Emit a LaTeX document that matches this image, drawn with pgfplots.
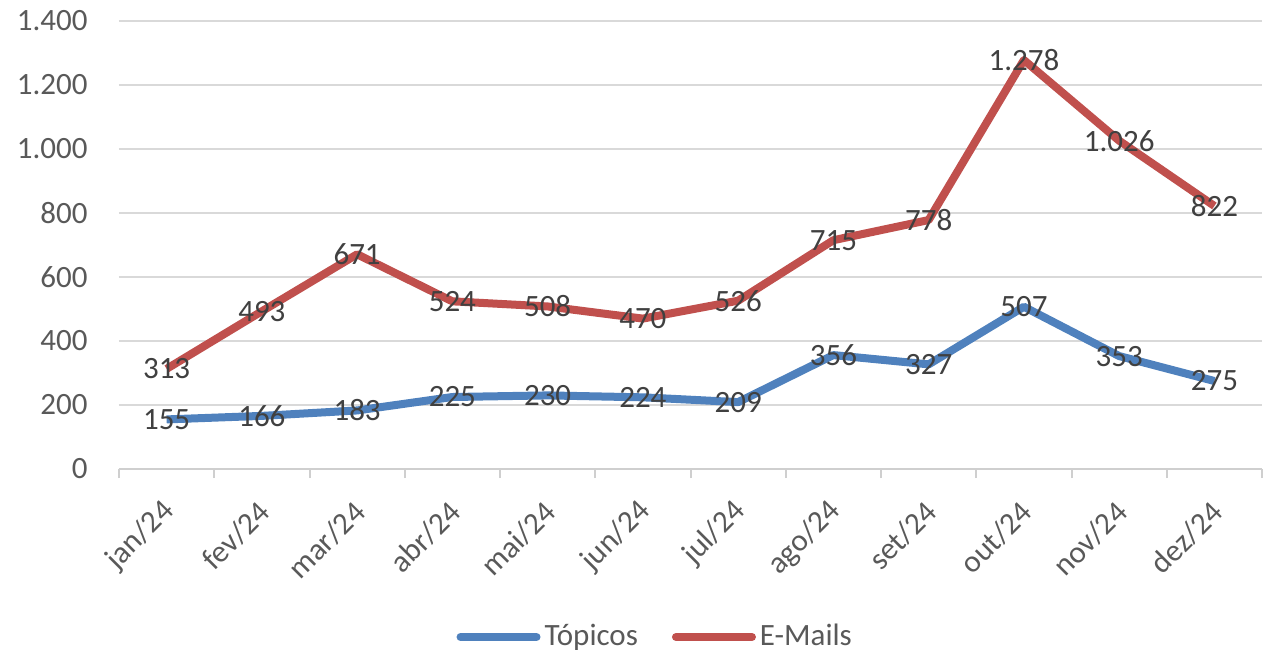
\documentclass[border=0pt]{standalone}
\usepackage{fontspec}
\setmainfont{Carlito}
\usepackage{pgfplots}
\pgfplotsset{compat=1.18}
\definecolor{cblue}{HTML}{4F81BD}
\definecolor{cred}{HTML}{C0504D}
\definecolor{gridc}{HTML}{D9D9D9}
\definecolor{axisc}{HTML}{CFCFCF}
\definecolor{tickc}{HTML}{595959}
\definecolor{labc}{HTML}{404040}
\begin{document}
\fontsize{15.5}{18}\selectfont
\begin{tikzpicture}
\path[use as bounding box] (-59.5pt,-93pt) rectangle (574pt,234.5pt);
\begin{axis}[
  at={(0,0)}, anchor=south west,
  scale only axis, width=571.5pt, height=224pt,
  xmin=-0.5, xmax=11.5, ymin=0, ymax=1400,
  xtick={0,...,11},
  xticklabels={jan/24,fev/24,mar/24,abr/24,mai/24,jun/24,jul/24,ago/24,set/24,out/24,nov/24,dez/24},
  minor xtick={-0.5,0.5,...,11.5},
  ytick={0,200,...,1400},
  scaled y ticks=false,
  major tick length=0pt,
  minor tick length=4.5pt,
  tick align=outside,
  minor tick style={draw=axisc, line width=1pt},
  axis x line*=bottom, axis y line*=left,
  x axis line style={-, draw=axisc, line width=1pt},
  y axis line style={draw=none},
  ymajorgrids, grid style={draw=gridc, line width=1pt},
  /pgf/number format/1000 sep={.},
  /pgf/number format/assume math mode=true,
  yticklabel style={anchor=east, inner sep=0pt, xshift=-15.5pt, text=tickc},
  xticklabel style={rotate=45, anchor=east, inner sep=0pt, xshift=-12.2pt, yshift=-14.4pt, text=tickc},
  nodes near coords,
  nodes near coords align={center},
  every node near coord/.append style={anchor=center, text=labc, inner sep=0pt},
  legend columns=2,
  legend style={at={(0.47,-0.375)}, anchor=center, draw=none, fill=none,
    text=tickc, /tikz/every even column/.append style={column sep=15pt}},
  legend image code/.code={\draw[#1, line cap=round] (0pt,0pt) -- (38pt,0pt);},
]
\addplot[cblue, line width=4pt, line join=round, mark=none] coordinates {
(0,155) (1,166) (2,183) (3,225) (4,230) (5,224) (6,209) (7,356) (8,327) (9,507) (10,353) (11,275)};
\addlegendentry{Tópicos}
\addplot[cred, line width=4pt, line join=round, mark=none] coordinates {
(0,313) (1,493) (2,671) (3,524) (4,508) (5,470) (6,526) (7,715) (8,778) (9,1278) (10,1026) (11,822)};
\addlegendentry{E-Mails}
\end{axis}
\end{tikzpicture}
\end{document}
